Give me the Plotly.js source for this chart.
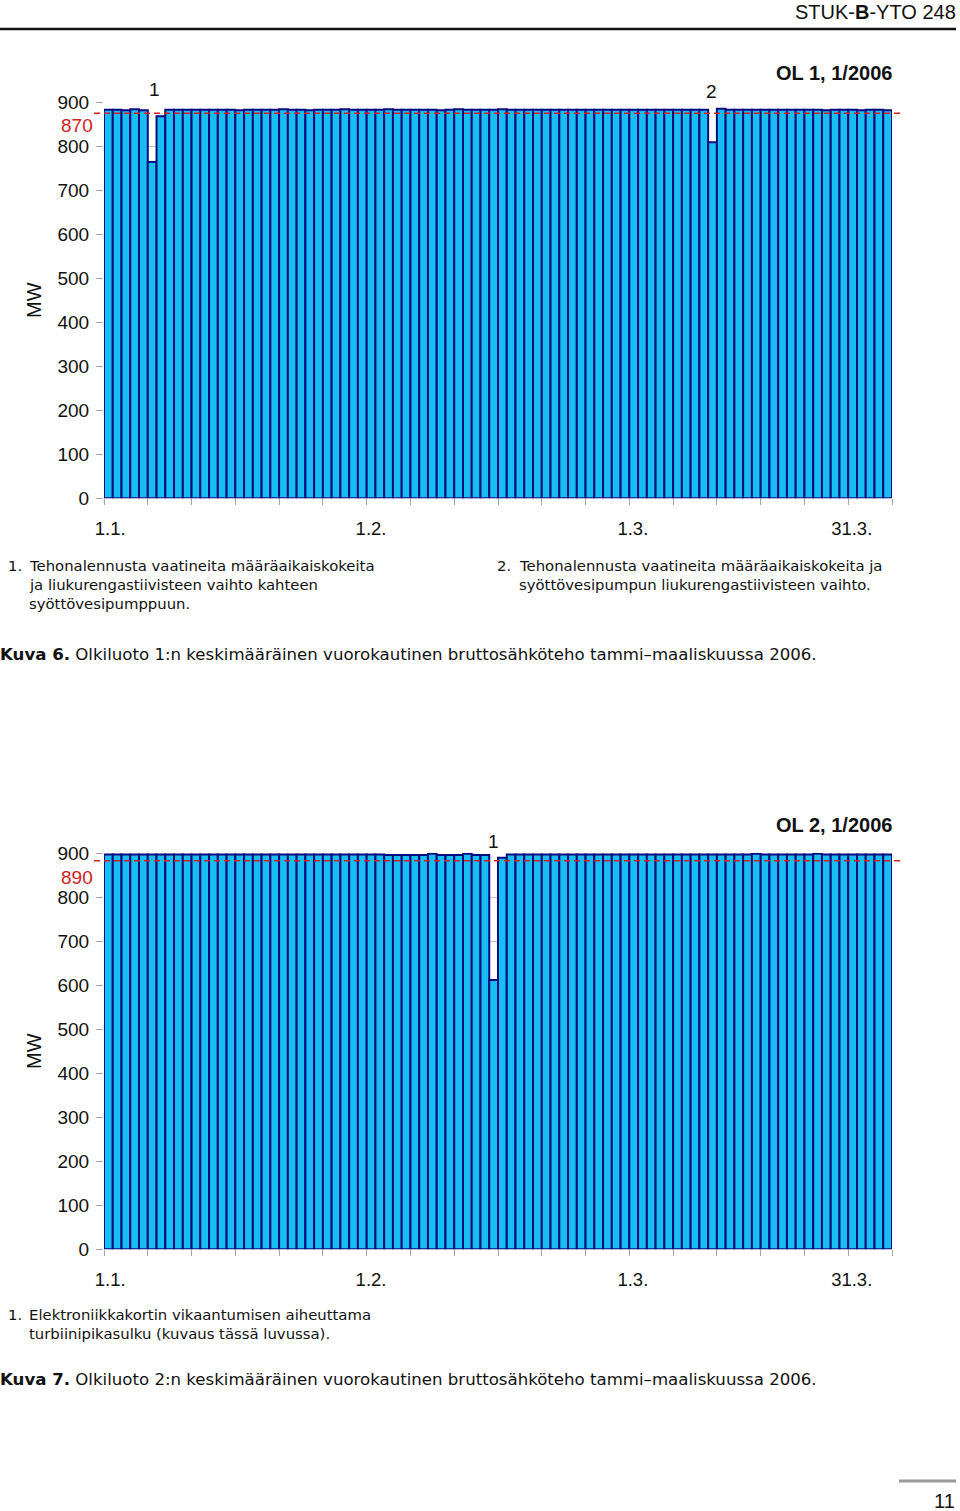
<!DOCTYPE html>
<html><head><meta charset="utf-8">
<script src="https://cdn.plot.ly/plotly-3.0.1.min.js"></script>
<style>html,body{margin:0;padding:0;background:#fff}#chart{width:960px;height:1511px}</style>
</head><body><div id="chart"></div>
<script>
// ---- data ----
const days = Array.from({length: 90}, (_, i) => i + 1); // 1.1. ... 31.3.2006
const ol1Power = [
  884, 884, 883, 885, 883, 765, 869, 884, 884, 884,
  884, 884, 884, 884, 884, 883, 884, 884, 884, 884,
  885, 884, 884, 883, 884, 884, 884, 885, 884, 884,
  884, 884, 885, 884, 884, 884, 884, 884, 883, 884,
  885, 884, 884, 884, 884, 885, 884, 884, 884, 884,
  884, 884, 884, 884, 884, 884, 884, 884, 884, 884,
  884, 884, 884, 884, 884, 884, 884, 884, 884, 810,
  886, 884, 884, 884, 884, 884, 884, 884, 884, 884,
  884, 884, 883, 884, 884, 884, 883, 884, 884, 883
];
const ol2Power = [
  897, 897, 897, 897, 897, 897, 897, 897, 897, 897,
  897, 897, 897, 897, 897, 897, 897, 897, 897, 897,
  897, 897, 897, 897, 897, 897, 897, 897, 897, 897,
  897, 897, 896, 896, 896, 896, 896, 899, 896, 896,
  896, 899, 896, 896, 612, 890, 897, 897, 897, 897,
  897, 897, 897, 897, 897, 897, 897, 897, 897, 897,
  897, 897, 897, 897, 897, 897, 897, 897, 897, 897,
  897, 897, 897, 897, 899, 897, 897, 897, 897, 897,
  897, 899, 897, 897, 897, 897, 897, 897, 897, 897
];
const ol1RefLevel = 876, ol1RefLabel = "870";
const ol2RefLevel = 883, ol2RefLabel = "890";
const yTickVals = [0, 100, 200, 300, 400, 500, 600, 700, 800, 900];
const dateLabels = ["1.1.", "1.2.", "1.3.", "31.3."];

// ---- layout helpers ----
const W = 960, H = 1511;
const px = x => x / W;
const py = y => 1 - y / H;
const FONT = "Liberation Sans, Arial, Helvetica, sans-serif";
const TEXTFONT = "DejaVu Sans, Verdana, sans-serif";
const dateLabelPos = [1.2, 31, 60.9, 85.9];

const barFill = "#17BEF1", barLine = "#0A0A80", refRed = "#D42020", tickGray = "#A8A8A8";

function xAxis(anchor) {
  return {
    anchor: anchor, domain: [px(104), px(892)], range: [0.5, 90.5],
    tickmode: "array", tickvals: dateLabelPos, ticktext: dateLabels,
    ticks: "", tickfont: {family: FONT, size: 18.5, color: "#111"},
    ticklabelstandoff: 17,
    showgrid: false, zeroline: false, showline: false, fixedrange: true,
    minor: {ticks: "outside", ticklen: 6, tickwidth: 1, tickcolor: tickGray,
            tickmode: "linear", tick0: 0.5, dtick: 5, showgrid: false}
  };
}
function yAxis(anchor, bottomPx, topPx) {
  return {
    anchor: anchor, domain: [py(bottomPx), py(topPx)], range: [0, 901],
    tickmode: "array", tickvals: yTickVals,
    ticks: "outside", ticklen: 7, tickwidth: 1, tickcolor: tickGray,
    tickfont: {family: FONT, size: 19, color: "#111"},
    ticklabelstandoff: 3,
    showgrid: true, gridcolor: "#C4C4C4", gridwidth: 1,
    zeroline: false, showline: false, fixedrange: true
  };
}

const traces = [
  {type: "bar", x: days, y: ol1Power, xaxis: "x", yaxis: "y",
   marker: {color: barFill, line: {color: barLine, width: 2}}, hoverinfo: "skip"},
  {type: "bar", x: days, y: ol2Power, xaxis: "x2", yaxis: "y2",
   marker: {color: barFill, line: {color: barLine, width: 2}}, hoverinfo: "skip"}
];

function ann(text, x, y, o) {
  const a = Object.assign({
    text: text, xref: "paper", yref: "paper", x: x, y: py(y),
    xanchor: "left", yanchor: "middle", showarrow: false,
    font: {family: TEXTFONT, size: 14.85, color: "#111"}
  }, o || {});
  const shift = a.xanchor === "left" ? -2 : (a.xanchor === "right" ? 2 : 0);
  a.x = px(x + shift);
  return a;
}
const f = (size, color, fam) => ({family: fam || FONT, size: size, color: color || "#111"});

const annotations = [
  ann("STUK-<b>B</b>-YTO 248", 956, 12, {xanchor: "right", font: f(20)}),
  // chart 1
  ann("<b>OL 1, 1/2006</b>", 892, 73, {xanchor: "right", font: f(20)}),
  ann("1", 154, 89, {xanchor: "center", font: f(19)}),
  ann("2", 711, 92, {xanchor: "center", font: f(19)}),
  ann("MW", 34, 300, {xanchor: "center", textangle: -90, font: f(20)}),
  ann(ol1RefLabel, 93, 126, {xanchor: "right", font: f(19, refRed)}),
  ann("1.", 8, 566), ann("Tehonalennusta vaatineita määräaikaiskokeita", 29, 566),
  ann("ja liukurengastiivisteen vaihto kahteen", 29, 585),
  ann("syöttövesipumppuun.", 29, 604),
  ann("2.", 497, 566), ann("Tehonalennusta vaatineita määräaikaiskokeita ja", 519, 566),
  ann("syöttövesipumpun liukurengastiivisteen vaihto.", 519, 585),
  ann("<b>Kuva 6.</b> Olkiluoto 1:n keskimääräinen vuorokautinen bruttosähköteho tammi–maaliskuussa 2006.", 0, 654, {font: f(16.6, null, TEXTFONT)}),
  // chart 2
  ann("<b>OL 2, 1/2006</b>", 892, 825, {xanchor: "right", font: f(20)}),
  ann("1", 494, 841, {xanchor: "center", font: f(19)}),
  ann("MW", 34, 1051, {xanchor: "center", textangle: -90, font: f(20)}),
  ann(ol2RefLabel, 93, 877, {xanchor: "right", font: f(19, refRed)}),
  ann("1.", 8, 1315), ann("Elektroniikkakortin vikaantumisen aiheuttama", 29, 1315),
  ann("turbiinipikasulku (kuvaus tässä luvussa).", 29, 1334),
  ann("<b>Kuva 7.</b> Olkiluoto 2:n keskimääräinen vuorokautinen bruttosähköteho tammi–maaliskuussa 2006.", 0, 1379, {font: f(16.6, null, TEXTFONT)}),
  ann("11", 955, 1501, {xanchor: "right", font: f(20)})
];

const shapes = [
  {type: "line", xref: "paper", yref: "paper", x0: 0, x1: px(956), y0: py(29), y1: py(29),
   line: {color: "#111", width: 2.5}},
  {type: "line", xref: "paper", yref: "y", x0: px(94), x1: px(901), y0: ol1RefLevel, y1: ol1RefLevel,
   line: {color: refRed, width: 1.6, dash: "6px,4px"}},
  {type: "line", xref: "paper", yref: "y2", x0: px(94), x1: px(901), y0: ol2RefLevel, y1: ol2RefLevel,
   line: {color: refRed, width: 1.6, dash: "6px,4px"}},
  {type: "line", xref: "paper", yref: "paper", x0: px(899), x1: px(956), y0: py(1481), y1: py(1481),
   line: {color: "#999", width: 3}}
];

const layout = {
  width: W, height: H, margin: {l: 0, r: 0, t: 0, b: 0},
  paper_bgcolor: "#fff", plot_bgcolor: "#fff",
  showlegend: false, bargap: 0,
  font: {family: FONT},
  xaxis: xAxis("y"), yaxis: yAxis("x", 498.3, 102.26),
  xaxis2: xAxis("y2"), yaxis2: yAxis("x2", 1249.3, 852.86),
  annotations: annotations, shapes: shapes
};

Plotly.newPlot("chart", traces, layout, {staticPlot: true, displayModeBar: false});
</script>
</body></html>
